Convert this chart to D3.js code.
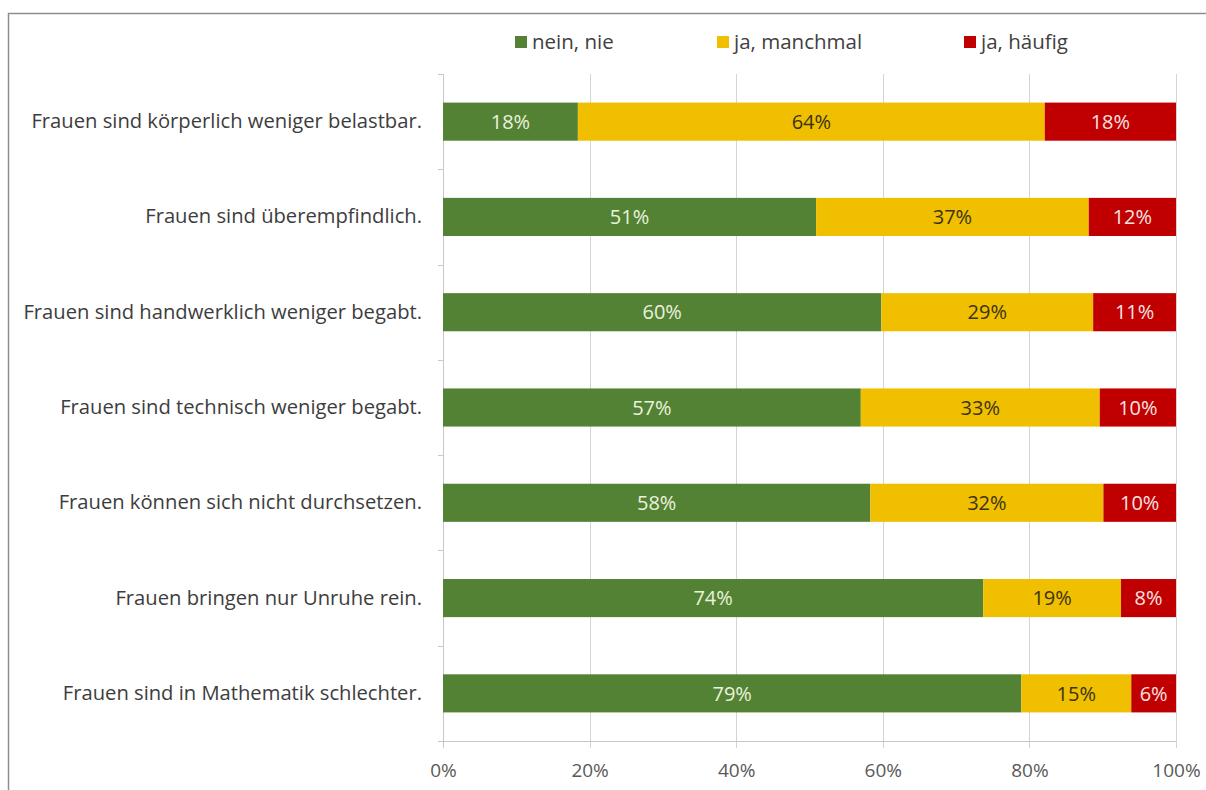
<!DOCTYPE html>
<html>
<head>
<meta charset="utf-8">
<script src="https://cdn.jsdelivr.net/npm/d3@7"></script>
<style>
  html, body { margin: 0; padding: 0; background: #fff; }
  svg { display: block; }
  text { font-family: "Open Sans", "Noto Sans", "DejaVu Sans", sans-serif; }
</style>
</head>
<body>
<svg id="chart" width="1206" height="790"></svg>
<script>
// Survey statements (top to bottom)
const statements = [
  "Frauen sind körperlich weniger belastbar.",
  "Frauen sind überempfindlich.",
  "Frauen sind handwerklich weniger begabt.",
  "Frauen sind technisch weniger begabt.",
  "Frauen können sich nicht durchsetzen.",
  "Frauen bringen nur Unruhe rein.",
  "Frauen sind in Mathematik schlechter."
];

// Answer shares in percent, one array per answer category
const neinNie     = [18.4, 50.9, 59.8, 57.0, 58.3, 73.7, 78.9];
const jaManchmal  = [63.7, 37.2, 28.9, 32.6, 31.8, 18.8, 15.0];
const jaHaeufig   = [17.9, 11.9, 11.3, 10.4, 9.9, 7.5, 6.1];

const seriesNames  = ["nein, nie", "ja, manchmal", "ja, häufig"];
const seriesColors = ["#548235", "#efbf00", "#c00000"];
const labelColors  = ["#eaf2dc", "#3b3315", "#f8e2e2"];

const xTicks = [0, 20, 40, 60, 80, 100];

// Build rows for the stack layout
const rows = statements.map((s, i) => ({
  statement: s,
  "nein, nie": neinNie[i],
  "ja, manchmal": jaManchmal[i],
  "ja, häufig": jaHaeufig[i]
}));

const svg = d3.select("#chart");

// outer frame
svg.append("rect")
  .attr("x", 8.5).attr("y", 13.5)
  .attr("width", 1300).attr("height", 900)
  .attr("fill", "none")
  .attr("stroke", "#8e8e8e")
  .attr("stroke-width", 1.5);

const plot = { left: 443, right: 1176, top: 74, bottom: 741 };

const x = d3.scaleLinear().domain([0, 100]).range([plot.left, plot.right]);
const y = d3.scaleBand().domain(statements).range([plot.top, plot.bottom]).paddingInner(0.6).paddingOuter(0.3);

// vertical gridlines with small ticks below axis
svg.append("g").selectAll("line")
  .data(xTicks.slice(1))
  .join("line")
  .attr("x1", d => Math.round(x(d)) + 0.5).attr("x2", d => Math.round(x(d)) + 0.5)
  .attr("y1", plot.top).attr("y2", plot.bottom + 7)
  .attr("stroke", "#d4d4d4").attr("stroke-width", 1);

// x axis baseline
svg.append("line")
  .attr("x1", plot.left).attr("x2", plot.right + 0.5)
  .attr("y1", plot.bottom + 0.5).attr("y2", plot.bottom + 0.5)
  .attr("stroke", "#c8c8c8");

// x axis labels
const xAxis = d3.axisBottom(x).tickValues(xTicks).tickFormat(d => d + "%").tickSize(0).tickPadding(23);
const gx = svg.append("g").attr("transform", `translate(0,${plot.bottom})`).call(xAxis);
gx.select(".domain").remove();
gx.selectAll("text").attr("font-size", 19).attr("fill", "#595959")
  .attr("font-family", "'Open Sans', 'Noto Sans', sans-serif");

// category axis line with boundary ticks
const boundaries = d3.range(statements.length + 1).map(i => plot.top + i * (plot.bottom - plot.top) / statements.length);
svg.append("line")
  .attr("x1", plot.left + 0.5).attr("x2", plot.left + 0.5)
  .attr("y1", plot.top).attr("y2", plot.bottom + 7)
  .attr("stroke", "#c8c8c8");
svg.selectAll("line.ytick")
  .data(boundaries)
  .join("line")
  .attr("class", "ytick")
  .attr("x1", plot.left - 5).attr("x2", plot.left)
  .attr("y1", d => Math.round(d) + 0.5).attr("y2", d => Math.round(d) + 0.5)
  .attr("stroke", "#c8c8c8");

// category labels
const yAxis = d3.axisLeft(y).tickSize(0).tickPadding(21);
const gy = svg.append("g").attr("transform", `translate(${plot.left},0)`).call(yAxis);
gy.select(".domain").remove();
gy.selectAll("text").attr("font-size", 20.2).attr("fill", "#3d3d3d")
  .attr("font-family", "'Open Sans', 'Noto Sans', sans-serif");

// stacked bars
const stack = d3.stack().keys(seriesNames);
const layers = stack(rows);

const layerG = svg.append("g").selectAll("g")
  .data(layers)
  .join("g")
  .attr("fill", (d, i) => seriesColors[i]);

layerG.selectAll("rect")
  .data(d => d)
  .join("rect")
  .attr("x", d => x(d[0]))
  .attr("y", d => y(d.data.statement))
  .attr("width", d => x(d[1]) - x(d[0]))
  .attr("height", y.bandwidth());

// value labels, centred in each segment
layers.forEach((layer, i) => {
  svg.append("g").selectAll("text")
    .data(layer)
    .join("text")
    .attr("x", d => (x(d[0]) + x(d[1])) / 2)
    .attr("y", d => y(d.data.statement) + y.bandwidth() / 2)
    .attr("dy", "0.36em")
    .attr("text-anchor", "middle")
    .attr("font-size", 20)
    .attr("fill", labelColors[i])
    .text(d => Math.round(d.data[layer.key]) + "%");
});

// legend
const legendX = [515, 717, 964];
const legend = svg.append("g");
seriesNames.forEach((name, i) => {
  legend.append("rect")
    .attr("x", legendX[i]).attr("y", 36)
    .attr("width", 12).attr("height", 12)
    .attr("fill", seriesColors[i]);
  legend.append("text")
    .attr("x", legendX[i] + 17).attr("y", 42)
    .attr("dy", "0.35em")
    .attr("font-size", 20.5)
    .attr("fill", "#404040")
    .text(name);
});
</script>
</body>
</html>
